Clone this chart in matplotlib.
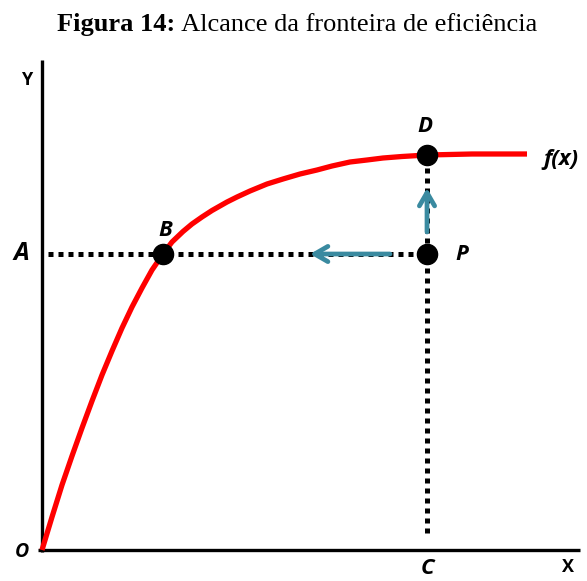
import matplotlib
matplotlib.use("Agg")
import matplotlib.pyplot as plt

# frontier curve f(x), origin at O
curve_x = [0, 10, 20, 30, 40, 50, 60, 70, 80, 90, 100, 110, 121, 130, 141, 150, 160,
           170, 185, 195, 208, 225, 241, 258, 275, 290, 308, 325, 341, 360, 385, 430, 485]
curve_y = [0, 33, 65, 94, 122, 149, 175, 199, 222, 243, 262, 280, 296, 308, 318.5, 326, 333,
           339.5, 348, 353, 359, 366, 371, 376, 380, 384, 388, 390, 392, 393.5, 395, 396, 396]

# named points
pt_B = (121, 296)
pt_P = (385, 296)
pt_D = (385, 395)
pt_C = (385, 0)
pt_A = (0, 296)

x_axis_end = 538
y_axis_end = 490

red = '#ff0000'
teal = '#3a8aa0'

fig = plt.figure(figsize=(5.87, 5.81), dpi=100)
ax = fig.add_axes([0, 0, 1, 1])
ax.set_xlim(-42, 545)
ax.set_ylim(-31, 550)
ax.axis('off')

# axes
ax.plot([0, 0], [-2, y_axis_end], color='black', lw=2.4, solid_capstyle='butt')
ax.plot([-4, x_axis_end], [0, 0], color='black', lw=2.4, solid_capstyle='butt')

# dotted guides
dot = dict(color='black', lw=3.6, linestyle=(0, (1, 1)), dash_capstyle='butt')
ax.plot([pt_A[0] + 6, pt_P[0]], [pt_A[1], pt_P[1]], **dot)
ax.plot([pt_C[0], pt_D[0]], [pt_C[1] + 17, pt_D[1]], **dot)

# curve
ax.plot(curve_x, curve_y, color=red, lw=3.8, solid_capstyle='butt',
        solid_joinstyle='round', zorder=3)

# arrows
arr = dict(arrowstyle='->,head_length=0.95,head_width=0.55', color=teal, lw=3.4,
           shrinkA=0, shrinkB=0)
ax.annotate('', xy=(268, 296), xytext=(348, 296), arrowprops=arr, zorder=4)
ax.annotate('', xy=(385, 362), xytext=(385, 318), arrowprops=arr, zorder=4)

# points
for p in (pt_B, pt_P, pt_D):
    ax.plot(*p, 'o', color='black', ms=14.5, zorder=5)

# labels
lab = dict(family=['Open Sans', 'DejaVu Sans'], weight='bold', ha='center', va='center')
ax.text(-15, 470, 'Y', fontsize=13, **lab)
ax.text(526, -17, 'X', fontsize=13, **lab)
ax.text(-21, 297, 'A', fontsize=18, style='italic', **lab)
ax.text(123, 319, 'B', fontsize=16, style='italic', **lab)
ax.text(383, 423, 'D', fontsize=16, style='italic', **lab)
ax.text(420, 296, 'P', fontsize=16, style='italic', **lab)
ax.text(519, 390, 'f(x)', fontsize=16, style='italic', **lab)
ax.text(-20, -2, 'O', fontsize=14, style='italic', **lab)
ax.text(385, -19, 'C', fontsize=16, style='italic', **lab)

# title: bold prefix + regular rest, centred as a whole
fig.canvas.draw()
r = fig.canvas.get_renderer()
ty = 1 - 25 / 581
tb = fig.text(0, ty, 'Figura 14:', family='Liberation Serif', weight='bold',
              fontsize=19, va='center')
tr = fig.text(0, ty, ' Alcance da fronteira de eficiência', family='Liberation Serif',
              fontsize=19, va='center')
wb = tb.get_window_extent(r).width
wr = tr.get_window_extent(r).width
x0 = 297 - (wb + wr) / 2
tb.set_x(x0 / 587)
tr.set_x((x0 + wb) / 587)

fig.savefig('out.png', dpi=100)
